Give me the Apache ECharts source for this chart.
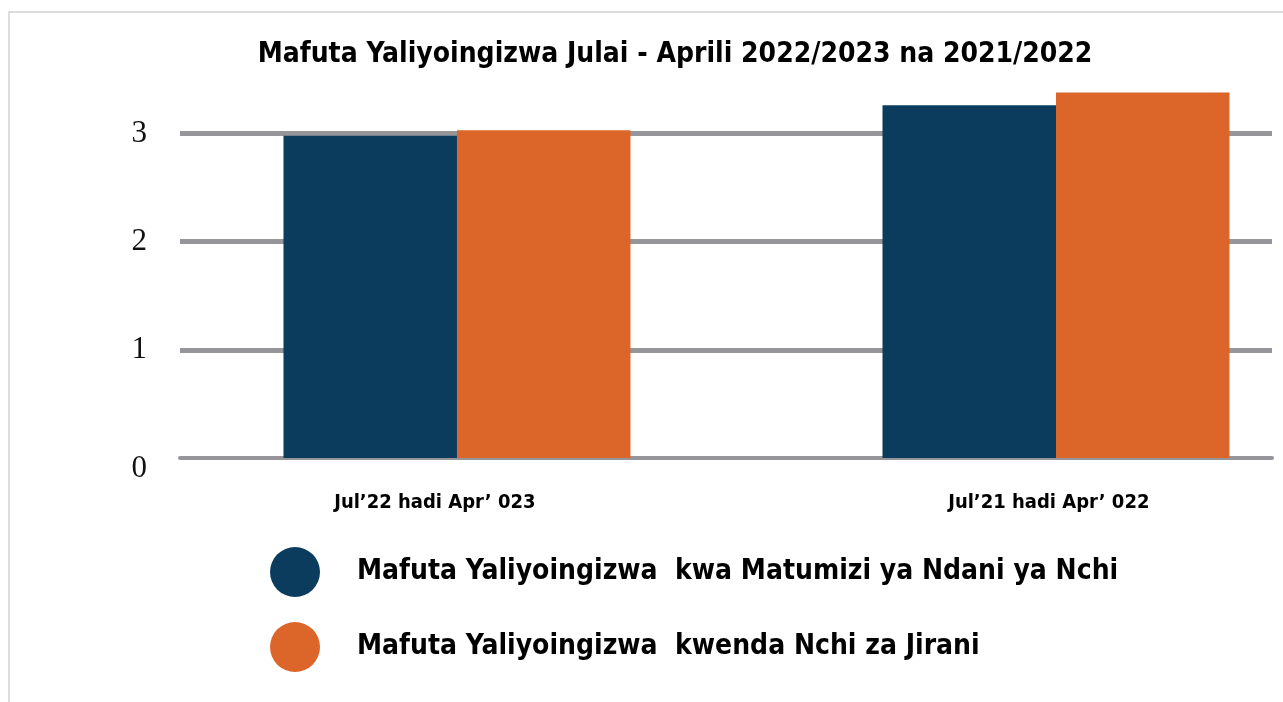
<!DOCTYPE html>
<html>
<head>
<meta charset="utf-8">
<script src="https://cdn.jsdelivr.net/npm/echarts@6/dist/echarts.min.js"></script>
<style>
html,body{margin:0;padding:0;background:#fff;}
#c{width:1283px;height:702px;}
</style>
</head>
<body>
<div id="c"></div>
<script>
const titleText = 'Mafuta Yaliyoingizwa Julai - Aprili 2022/2023 na 2021/2022';
const categories = ['Jul\u201922 hadi Apr\u2019 023', 'Jul\u201921 hadi Apr\u2019 022'];
const seriesNames = ['Mafuta Yaliyoingizwa  kwa Matumizi ya Ndani ya Nchi', 'Mafuta Yaliyoingizwa  kwenda Nchi za Jirani'];
const domestic = [2.98, 3.26];
const transit = [3.03, 3.38];
const yTickMax = 3.5;

const narrow = '"Liberation Sans Narrow", "DejaVu Sans Condensed", Roboto, sans-serif';
const chart = echarts.init(document.getElementById('c'), null, {renderer: 'canvas'});
chart.setOption({
  animation: false,
  backgroundColor: '#ffffff',
  title: {
    text: titleText,
    left: 670,
    top: 36,
    textAlign: 'center',
    textStyle: {fontFamily: narrow, fontWeight: 'bold', fontSize: 28, color: '#000'}
  },
  graphic: [
    {type: 'line', shape: {x1: 9, y1: 12, x2: 9, y2: 702}, style: {stroke: '#dddddd', lineWidth: 2}},
    {type: 'line', shape: {x1: 8, y1: 12, x2: 1283, y2: 12}, style: {stroke: '#dddddd', lineWidth: 2}}
  ],
  legend: {
    orient: 'vertical',
    left: 265,
    top: 542,
    icon: 'circle',
    itemWidth: 50,
    itemHeight: 50,
    itemGap: 25,
    textStyle: {fontFamily: narrow, fontWeight: 'bold', fontSize: 28, color: '#000', padding: [0, 0, 0, 32]},
    data: seriesNames
  },
  grid: {left: 180, right: 11, top: 79.4, bottom: 244},
  xAxis: {
    type: 'value',
    min: -0.4624,
    max: 1.3606,
    splitLine: {show: false},
    axisTick: {show: false},
    offset: 3,
    axisLine: {show: true, lineStyle: {color: '#96969a', width: 4}},
    axisLabel: {
      customValues: [-0.037, 0.988],
      formatter: v => categories[Math.round(v)],
      margin: 32,
      fontFamily: narrow, fontWeight: 'bold', fontSize: 20, color: '#000'
    }
  },
  yAxis: {
    type: 'value',
    min: 0,
    max: yTickMax,
    interval: 1,
    axisLine: {show: false},
    axisTick: {show: false},
    splitLine: {show: true, showMaxLine: false, showMinLine: false, lineStyle: {color: '#96969a', width: 5}},
    axisLabel: {
      showMaxLabel: false,
      margin: 33,
      formatter: v => (v === 0 ? '{z|0}' : String(v)),
      rich: {z: {padding: [22, 0, 0, 0], fontFamily: '"Liberation Serif", "DejaVu Serif", serif', fontSize: 31, color: '#111'}},
      fontFamily: '"Liberation Serif", "DejaVu Serif", serif',
      fontSize: 31,
      color: '#111'
    }
  },
  series: [
    {name: seriesNames[0], type: 'bar', barWidth: 173.5, barGap: '0%',
     itemStyle: {color: '#0b3c5e'}, data: domestic.map((v, i) => [i, v])},
    {name: seriesNames[1], type: 'bar', barWidth: 173.5, barGap: '0%',
     itemStyle: {color: '#dc6629'}, data: transit.map((v, i) => [i, v])}
  ]
});
</script>
</body>
</html>
